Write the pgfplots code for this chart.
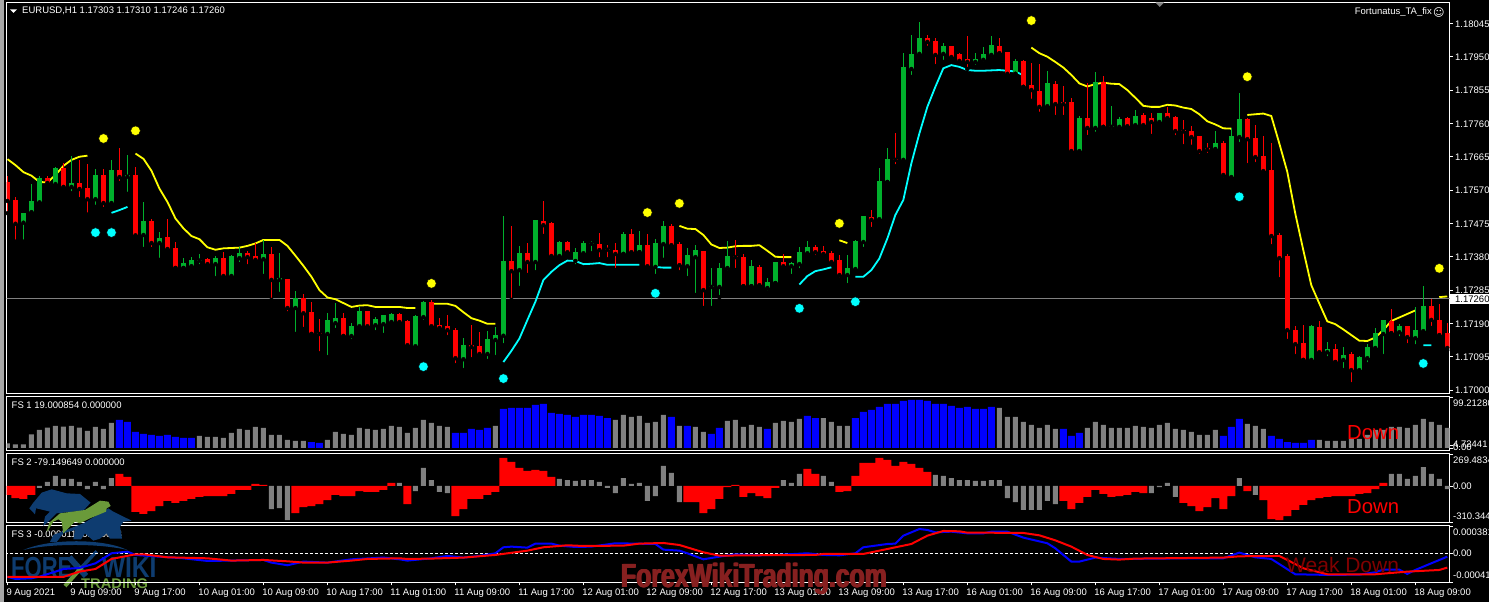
\documentclass[border=0pt]{standalone}
\usepackage{fontspec}
\setmainfont{Liberation Sans}
\newfontfamily\symfont{DejaVu Sans}
\usepackage{pgfplots}
\usepackage{pgfplotstable}
\pgfplotsset{compat=1.18}

\definecolor{cgreen}{RGB}{0,176,44}
\definecolor{cgray}{RGB}{128,128,128}
\definecolor{cred}{RGB}{255,0,0}
\definecolor{cblue}{RGB}{0,0,255}
\definecolor{ccyan}{RGB}{0,255,255}
\definecolor{cyellow}{RGB}{255,255,0}
\definecolor{weak}{RGB}{128,0,0}
\definecolor{wmark}{RGB}{135,32,32}
\definecolor{logoblue}{RGB}{14,60,112}
\definecolor{logogreen}{RGB}{106,154,58}
\newcommand\tf{\fontsize{9.5}{11}\selectfont}

% bars that closed up: i open high low close
\pgfplotstableread{
i o h l c
2 1.17477 1.17506 1.17423 1.17506
3 1.17507 1.17586 1.17505 1.17539
4 1.17535 1.17609 1.17531 1.17604
6 1.17587 1.17637 1.17577 1.17633
8 1.17579 1.17666 1.17561 1.17590
11 1.17544 1.17630 1.17522 1.17613
13 1.17533 1.17655 1.17524 1.17627
15 1.17608 1.17670 1.17559 1.17612
17 1.17442 1.17536 1.17402 1.17482
19 1.17419 1.17450 1.17371 1.17433
22 1.17348 1.17376 1.17348 1.17362
23 1.17353 1.17379 1.17342 1.17371
24 1.17369 1.17388 1.17353 1.17371
26 1.17359 1.17382 1.17319 1.17376
28 1.17325 1.17385 1.17316 1.17382
29 1.17376 1.17408 1.17359 1.17390
32 1.17373 1.17428 1.17325 1.17388
34 1.17314 1.17390 1.17274 1.17319
36 1.17234 1.17282 1.17160 1.17262
40 1.17160 1.17219 1.17094 1.17200
41 1.17191 1.17248 1.17171 1.17205
43 1.17154 1.17191 1.17140 1.17182
44 1.17182 1.17237 1.17171 1.17225
46 1.17185 1.17208 1.17165 1.17202
47 1.17188 1.17214 1.17157 1.17214
48 1.17194 1.17219 1.17185 1.17217
51 1.17125 1.17214 1.17114 1.17211
52 1.17208 1.17254 1.17194 1.17251
57 1.17088 1.17148 1.17057 1.17128
60 1.17103 1.17168 1.17083 1.17145
61 1.17143 1.17180 1.17094 1.17157
62 1.17155 1.17496 1.17128 1.17368
64 1.17342 1.17410 1.17291 1.17390
66 1.17365 1.17485 1.17336 1.17485
69 1.17382 1.17425 1.17376 1.17422
71 1.17368 1.17405 1.17353 1.17393
72 1.17390 1.17425 1.17385 1.17419
73 1.17417 1.17425 1.17390 1.17419
77 1.17388 1.17450 1.17388 1.17445
79 1.17393 1.17453 1.17393 1.17413
81 1.17351 1.17430 1.17325 1.17419
82 1.17416 1.17482 1.17371 1.17467
85 1.17353 1.17405 1.17319 1.17385
86 1.17379 1.17413 1.17271 1.17399
88 1.17294 1.17348 1.17234 1.17296
89 1.17294 1.17362 1.17265 1.17348
90 1.17348 1.17425 1.17336 1.17382
93 1.17296 1.17371 1.17296 1.17353
95 1.17291 1.17319 1.17279 1.17308
96 1.17305 1.17365 1.17305 1.17365
98 1.17353 1.17365 1.17325 1.17362
99 1.17359 1.17408 1.17342 1.17393
100 1.17390 1.17425 1.17382 1.17408
105 1.17328 1.17385 1.17299 1.17348
106 1.17345 1.17428 1.17336 1.17425
107 1.17422 1.17496 1.17402 1.17496
109 1.17487 1.17633 1.17479 1.17596
110 1.17593 1.17690 1.17593 1.17658
112 1.17656 1.17960 1.17647 1.17921
113 1.17915 1.18012 1.17892 1.17958
114 1.17958 1.18049 1.17952 1.18003
117 1.17958 1.17989 1.17935 1.17980
121 1.17935 1.17960 1.17921 1.17943
122 1.17941 1.17978 1.17929 1.17958
123 1.17955 1.18009 1.17943 1.17982
126 1.17901 1.17943 1.17901 1.17938
130 1.17809 1.17909 1.17798 1.17875
134 1.17681 1.17781 1.17678 1.17775
136 1.17747 1.17906 1.17730 1.17878
138 1.17750 1.17809 1.17738 1.17752
139 1.17750 1.17778 1.17744 1.17772
141 1.17755 1.17798 1.17752 1.17781
144 1.17764 1.17789 1.17758 1.17789
151 1.17687 1.17738 1.17684 1.17704
153 1.17607 1.17747 1.17601 1.17724
154 1.17721 1.17846 1.17701 1.17772
163 1.17086 1.17185 1.17083 1.17182
165 1.17108 1.17137 1.17091 1.17117
167 1.17086 1.17123 1.17057 1.17100
169 1.17057 1.17097 1.17051 1.17094
170 1.17091 1.17131 1.17074 1.17123
171 1.17120 1.17177 1.17117 1.17162
172 1.17160 1.17200 1.17097 1.17200
174 1.17165 1.17188 1.17148 1.17182
176 1.17148 1.17237 1.17125 1.17171
177 1.17168 1.17296 1.17162 1.17239
}\upbars

% bars that closed down
\pgfplotstableread{
i o h l c
0 1.17593 1.17610 1.17504 1.17539
1 1.17542 1.17549 1.17423 1.17474
5 1.17604 1.17609 1.17580 1.17590
7 1.17634 1.17646 1.17577 1.17579
9 1.17590 1.17655 1.17544 1.17573
10 1.17576 1.17644 1.17500 1.17544
12 1.17613 1.17629 1.17516 1.17533
14 1.17627 1.17689 1.17590 1.17607
16 1.17613 1.17636 1.17436 1.17441
18 1.17482 1.17487 1.17402 1.17419
20 1.17436 1.17487 1.17399 1.17402
21 1.17405 1.17422 1.17348 1.17348
25 1.17373 1.17377 1.17348 1.17359
27 1.17376 1.17393 1.17322 1.17325
30 1.17390 1.17396 1.17353 1.17379
31 1.17382 1.17419 1.17368 1.17371
33 1.17388 1.17408 1.17257 1.17314
35 1.17316 1.17316 1.17219 1.17234
37 1.17262 1.17274 1.17174 1.17219
38 1.17222 1.17251 1.17160 1.17160
39 1.17162 1.17202 1.17105 1.17160
42 1.17205 1.17219 1.17154 1.17154
45 1.17225 1.17225 1.17174 1.17182
49 1.17217 1.17219 1.17191 1.17194
50 1.17197 1.17200 1.17125 1.17128
53 1.17251 1.17257 1.17177 1.17182
54 1.17185 1.17205 1.17168 1.17177
55 1.17182 1.17214 1.17151 1.17171
56 1.17171 1.17177 1.17071 1.17091
58 1.17128 1.17185 1.17088 1.17123
59 1.17125 1.17165 1.17094 1.17103
63 1.17368 1.17467 1.17257 1.17339
65 1.17390 1.17419 1.17328 1.17365
67 1.17482 1.17539 1.17439 1.17470
68 1.17476 1.17479 1.17379 1.17382
70 1.17422 1.17425 1.17388 1.17393
74 1.17416 1.17447 1.17373 1.17399
75 1.17402 1.17413 1.17373 1.17400
76 1.17399 1.17419 1.17342 1.17388
78 1.17445 1.17459 1.17390 1.17393
80 1.17413 1.17445 1.17351 1.17353
83 1.17467 1.17473 1.17408 1.17413
84 1.17416 1.17422 1.17336 1.17356
87 1.17396 1.17396 1.17234 1.17285
91 1.17382 1.17428 1.17342 1.17379
92 1.17379 1.17388 1.17296 1.17296
94 1.17351 1.17356 1.17294 1.17299
97 1.17365 1.17388 1.17348 1.17353
101 1.17408 1.17413 1.17379 1.17393
102 1.17396 1.17410 1.17382 1.17388
103 1.17390 1.17396 1.17359 1.17365
104 1.17371 1.17385 1.17316 1.17328
108 1.17493 1.17513 1.17459 1.17485
111 1.17658 1.17732 1.17638 1.17656
115 1.18003 1.18012 1.17975 1.17992
116 1.17995 1.18003 1.17923 1.17955
118 1.17980 1.17980 1.17943 1.17949
119 1.17958 1.17960 1.17932 1.17938
120 1.17943 1.18009 1.17915 1.17935
124 1.17980 1.18003 1.17958 1.17960
125 1.17963 1.17963 1.17898 1.17901
127 1.17938 1.17941 1.17864 1.17864
128 1.17869 1.17932 1.17824 1.17855
129 1.17852 1.17929 1.17787 1.17807
131 1.17872 1.17881 1.17778 1.17815
132 1.17821 1.17866 1.17778 1.17815
133 1.17821 1.17832 1.17673 1.17681
135 1.17775 1.17875 1.17721 1.17747
137 1.17878 1.17895 1.17750 1.17750
140 1.17775 1.17778 1.17747 1.17752
142 1.17784 1.17789 1.17752 1.17755
143 1.17775 1.17789 1.17724 1.17764
145 1.17789 1.17807 1.17772 1.17775
146 1.17778 1.17781 1.17721 1.17738
147 1.17741 1.17770 1.17695 1.17737
148 1.17738 1.17752 1.17693 1.17721
149 1.17724 1.17724 1.17667 1.17681
150 1.17689 1.17704 1.17670 1.17685
152 1.17704 1.17710 1.17601 1.17613
155 1.17772 1.17775 1.17641 1.17715
156 1.17718 1.17755 1.17644 1.17664
157 1.17667 1.17724 1.17613 1.17624
158 1.17627 1.17704 1.17410 1.17439
159 1.17442 1.17447 1.17316 1.17376
160 1.17382 1.17388 1.17140 1.17171
161 1.17171 1.17182 1.17097 1.17131
162 1.17134 1.17185 1.17086 1.17086
164 1.17180 1.17197 1.17103 1.17108
166 1.17117 1.17131 1.17080 1.17080
168 1.17103 1.17108 1.17017 1.17057
173 1.17197 1.17231 1.17162 1.17162
175 1.17182 1.17182 1.17128 1.17151
178 1.17239 1.17259 1.17177 1.17200
179 1.17200 1.17245 1.17154 1.17157
180 1.17162 1.17191 1.17114 1.17120
}\downbars

% trend line, down stretches
\pgfplotstableread{
i v
0 1.17658
1 1.17641
2 1.17621
3 1.17611
4 1.17593
5 1.17592
6 1.17613
7 1.17639
8 1.17656
9 1.17665
10 1.17668
nan nan
16 1.17674
17 1.17659
18 1.17625
19 1.17574
20 1.17536
21 1.17489
22 1.17461
23 1.17439
24 1.17430
25 1.17407
26 1.17400
27 1.17404
28 1.17405
29 1.17406
30 1.17411
31 1.17418
32 1.17428
33 1.17428
34 1.17428
35 1.17411
36 1.17383
37 1.17354
38 1.17323
39 1.17285
40 1.17264
41 1.17259
42 1.17248
43 1.17237
44 1.17241
45 1.17242
46 1.17237
47 1.17237
48 1.17237
49 1.17237
50 1.17234
51 1.17234
nan nan
53 1.17246
54 1.17246
55 1.17246
56 1.17240
57 1.17222
58 1.17205
59 1.17198
60 1.17189
61 1.17189
nan nan
84 1.17468
85 1.17460
86 1.17459
87 1.17442
88 1.17415
89 1.17405
90 1.17406
91 1.17410
92 1.17411
93 1.17411
94 1.17413
95 1.17397
96 1.17380
97 1.17379
98 1.17379
nan nan
104 1.17427
105 1.17419
nan nan
128 1.17976
129 1.17960
130 1.17950
131 1.17935
132 1.17919
133 1.17898
134 1.17874
135 1.17865
136 1.17872
137 1.17876
138 1.17873
139 1.17872
140 1.17855
141 1.17833
142 1.17810
143 1.17807
144 1.17807
145 1.17813
146 1.17811
147 1.17805
148 1.17801
149 1.17786
150 1.17766
151 1.17757
152 1.17746
153 1.17745
nan nan
155 1.17784
156 1.17786
157 1.17788
158 1.17781
159 1.17703
160 1.17622
161 1.17503
162 1.17399
163 1.17299
164 1.17247
165 1.17196
166 1.17188
167 1.17173
168 1.17157
169 1.17141
170 1.17140
171 1.17150
172 1.17171
173 1.17197
174 1.17207
175 1.17217
176 1.17227
nan nan
179 1.17265
180 1.17267
}\trenddown

% trend line, up stretches
\pgfplotstableread{
i v
13 1.17505
14 1.17513
15 1.17522
nan nan
62 1.17080
63 1.17112
64 1.17147
65 1.17200
66 1.17252
67 1.17314
68 1.17337
69 1.17356
70 1.17369
71 1.17368
72 1.17359
73 1.17360
74 1.17362
75 1.17357
76 1.17357
77 1.17357
78 1.17357
79 1.17357
nan nan
81 1.17351
82 1.17349
83 1.17349
nan nan
99 1.17301
100 1.17325
101 1.17339
102 1.17344
103 1.17350
nan nan
106 1.17323
107 1.17323
108 1.17342
109 1.17375
110 1.17432
111 1.17499
112 1.17542
113 1.17646
114 1.17731
115 1.17807
116 1.17864
117 1.17917
118 1.17926
119 1.17921
120 1.17912
121 1.17910
122 1.17910
123 1.17911
124 1.17912
125 1.17910
126 1.17908
127 1.17897
nan nan
177 1.17128
178 1.17128
}\trendup

% FS 1 histogram
\pgfplotstableread{
i v
0 9.1
1 7.2
2 7.2
3 26.8
4 35.3
5 39.8
6 43.1
7 41.8
8 43.1
9 39.8
10 33.3
11 41.2
12 37.2
13 49.0
24 23.6
25 21.6
26 21.6
27 19.6
28 29.4
29 37.2
30 35.3
31 41.2
32 39.2
33 25.5
34 25.5
35 15.7
36 13.7
37 13.7
40 15.7
41 31.4
42 27.5
43 25.5
44 39.2
45 37.2
46 35.3
47 37.2
48 43.1
49 41.2
50 29.4
51 39.2
52 54.8
53 49.0
54 43.1
55 41.2
61 43.1
76 54.8
77 64.7
78 60.7
79 62.7
80 49.0
81 50.9
82 64.7
84 43.1
86 41.2
87 31.4
90 52.9
91 54.8
92 41.2
93 45.1
94 41.2
96 49.0
97 52.9
98 50.9
99 56.8
102 58.7
103 50.9
104 43.1
105 43.1
124 78.4
125 60.7
126 60.7
127 50.9
128 45.1
129 39.2
130 45.1
131 37.2
135 39.2
136 50.9
137 45.1
138 39.2
139 39.2
140 39.2
141 43.1
142 41.2
143 39.2
144 45.1
145 49.0
146 37.2
147 35.3
148 31.4
149 25.5
150 25.5
151 35.3
155 47.0
156 43.1
157 37.2
164 15.7
165 13.7
166 13.7
167 13.7
168 17.6
169 17.6
170 25.5
171 35.3
172 35.3
173 41.2
174 41.2
175 39.2
176 45.1
177 56.8
178 50.9
179 45.1
180 39.2
}\fsonegray

\pgfplotstableread{
i v
14 54.8
15 50.9
16 31.4
17 27.5
18 25.5
19 23.6
20 25.5
21 21.6
22 19.6
23 19.6
38 11.7
39 9.8
56 29.4
57 29.4
58 37.2
59 35.3
60 39.2
62 76.4
63 78.4
64 78.4
65 78.4
66 84.3
67 86.2
68 68.6
69 66.7
70 64.7
71 60.7
72 64.7
73 64.7
74 62.7
75 58.7
83 60.7
85 43.1
88 27.5
89 39.2
95 37.2
100 62.7
101 58.7
106 58.7
107 70.6
108 74.5
109 80.3
110 86.2
111 86.2
112 92.1
113 94.0
114 94.0
115 92.1
116 86.2
117 86.2
118 82.3
119 78.4
120 80.3
121 76.4
122 76.4
123 80.3
132 37.2
133 23.6
134 29.4
152 23.6
153 41.2
154 56.8
158 23.6
159 17.6
160 11.7
161 9.8
162 9.8
163 15.7
}\fsoneblue

% FS 2 histogram
\pgfplotstableread{
i v
4 -17
5 34
6 86
7 60
8 60
9 34
10 -26
11 34
12 -26
13 68
33 -197
34 -188
35 -291
49 26
51 -43
52 154
53 51
54 -51
55 -60
69 60
70 51
71 43
72 51
73 51
74 34
75 -17
76 -60
77 68
78 17
79 26
80 -128
81 -86
82 171
83 111
84 -137
97 51
98 26
99 103
102 86
103 34
116 94
117 86
118 68
119 51
120 51
121 43
122 43
123 51
124 51
125 -103
126 -137
127 -205
128 -205
129 -205
130 -128
131 -154
143 -60
144 -9
145 26
146 -94
154 68
156 -77
173 103
174 103
175 60
176 86
177 162
178 103
179 60
180 -26
}\fstwogray

\pgfplotstableread{
i v
0 -77
1 -103
2 -111
3 -77
14 103
15 77
16 -222
17 -239
18 -214
19 -171
20 -128
21 -145
22 -128
23 -111
24 -94
25 -86
26 -86
27 -86
28 -68
29 -34
30 -34
31 17
32 9
36 -231
37 -180
38 -171
39 -154
40 -120
41 -77
42 -86
43 -86
44 -43
45 -51
46 -51
47 -34
48 26
50 -154
56 -257
57 -197
58 -111
59 -111
60 -77
61 -51
62 239
63 205
64 154
65 128
66 137
67 128
68 77
85 -137
86 -137
87 -231
88 -197
89 -111
90 -9
91 9
92 -94
93 -60
94 -86
95 -103
96 -17
100 145
101 103
104 -51
105 -43
106 86
107 197
108 197
109 239
110 222
111 171
112 205
113 188
114 154
115 120
132 -128
133 -197
134 -145
135 -94
136 -34
137 -68
138 -94
139 -86
140 -77
141 -51
142 -60
147 -145
148 -171
149 -214
150 -180
151 -103
152 -197
153 -86
155 -43
157 -120
158 -282
159 -291
160 -257
161 -205
162 -162
163 -120
164 -103
165 -94
166 -86
167 -86
168 -86
169 -68
170 -60
171 -26
172 26
}\fstwored

\pgfplotsset{
  panel/.style={
    scale only axis, width=1442.8pt,
    xmin=-0.1, xmax=180.28,
    axis line style={white, line width=1pt},
    tick style={white, line width=0.8pt},
    tick align=outside, major tick length=3pt,
    ytick pos=right, xtick=\empty,
    tick label style={white, font=\tf},
    scaled y ticks=false,
    unbounded coords=jump,
  },
  wick/.style={only marks, mark=none, forget plot,
    error bars/.cd, y dir=plus, y explicit, error mark=none,
    error bar style={#1, line width=1pt}},
  body/.style={only marks, mark=none, forget plot,
    error bars/.cd, y dir=plus, y explicit, error mark=none,
    error bar style={#1, line width=5pt}},
  hist/.style 2 args={ybar, bar width=#2, fill=#1, draw=none},
}

\newcommand\rlabel[2]{\node[anchor=west, inner sep=0pt, white, font=\tf] at (1453pt,602pt-#1pt) {#2};}
\newcommand\fslabel[2]{\node[anchor=west, inner sep=0pt, white, font=\tf] at (11.5pt,602pt-#1pt) {#2};}
% watermark, set a few times side by side to get its heavy weight
\newcommand\wm[2]{\node[anchor=center, inner sep=0pt, text=wmark,
      font=\fontsize{33.5}{34}\selectfont\bfseries, xscale=0.74] at (754pt+#1pt,23pt+#2pt) {ForexWikiTrading.com};}

\begin{document}
\begin{tikzpicture}
\path[use as bounding box, clip] (0,0) rectangle (1489pt,602pt);
\fill[black] (0,0) rectangle (1489pt,602pt);
\fill[black!35] (0,0) rectangle (4.3pt,602pt);

% price panel
\begin{axis}[panel, at={(6.7pt,208pt)}, anchor=south west, height=391.7pt,
    ymin=1.16989, ymax=1.18105,
    ytick={1.17,1.17095,1.1719,1.17285,1.1738,1.17475,1.1757,1.17665,1.1776,1.17855,1.1795,1.18045},
    yticklabels={1.17000,1.17095,1.17190,1.17285,1.17380,1.17475,1.17570,1.17665,1.17760,1.17855,1.17950,1.18045},
    yticklabel style={inner sep=0pt, xshift=2.5pt, yshift=-0.5pt},
  ]
  \addplot[cgray, line width=0.9pt] coordinates {(-1,1.1726) (181,1.1726)};
  \addplot[cyellow, line width=1.8pt] table[x=i,y=v] {\trenddown};
  \addplot[ccyan, line width=1.8pt] table[x=i,y=v] {\trendup};
  \addplot[wick=cgreen] table[x=i, y=l, y error expr=\thisrow{h}-\thisrow{l}] {\upbars};
  \addplot[body=cgreen] table[x=i, y=o, y error expr=\thisrow{c}-\thisrow{o}] {\upbars};
  \addplot[wick=cred] table[x=i, y=l, y error expr=\thisrow{h}-\thisrow{l}] {\downbars};
  \addplot[body=cred] table[x=i, y=c, y error expr=\thisrow{o}-\thisrow{c}] {\downbars};
  \addplot[only marks, mark=*, mark size=4.8pt, mark options={draw=none, fill=cyellow}] coordinates {
    (12,1.17717) (16,1.17739) (53,1.17304) (80,1.17506) (84,1.17532) (104,1.17475)
    (128,1.18053) (155,1.17893) (179,1.17347)};
  \addplot[only marks, mark=*, mark size=4.8pt, mark options={draw=none, fill=ccyan}] coordinates {
    (11,1.17449) (13,1.17449) (52,1.17067) (62,1.17033) (81,1.17276) (99,1.17233)
    (106,1.17252) (154,1.17551) (177,1.17076)};
\end{axis}

% FS 1
\begin{axis}[panel, at={(6.7pt,151pt)}, anchor=south west, height=54.7pt,
    ymin=-5.9, ymax=101.2, ytick={0,4.72441,99.2128}, yticklabels={}]
  \addplot[hist={cgray}{5pt}] table[x=i,y=v] {\fsonegray};
  \addplot[hist={cblue}{7pt}] table[x=i,y=v] {\fsoneblue};
\end{axis}

% FS 2
\begin{axis}[panel, at={(6.7pt,79pt)}, anchor=south west, height=69.7pt,
    ymin=-316, ymax=279, ytick={-310.344,0,269.483}, yticklabels={}]
  \addplot[hist={cgray}{5pt}] table[x=i,y=v] {\fstwogray};
  \addplot[hist={cred}{8pt}] table[x=i,y=v] {\fstwored};
\end{axis}

\fslabel{405}{FS 1 19.000854 0.000000}
\fslabel{462.3}{FS 2 -79.149649 0.000000}
\fslabel{534.3}{FS 3 -0.000011 -0.000018}

% logo, the part that sits under the FS 3 lines
\begin{scope}[shift={(0pt,122pt)}, x=0.3333pt, y=-0.3333pt]
  \fill[logoblue] (70,210) .. controls (150,175) and (310,175) .. (382,210)
     .. controls (300,190) and (150,190) .. (70,210) -- cycle;
  \node[anchor=west, inner sep=0pt, logoblue, font=\fontsize{29}{30}\selectfont\bfseries, xscale=0.76] at (33,262) {FORE};
  \node[anchor=west, inner sep=0pt, logoblue, font=\fontsize{29}{30}\selectfont\bfseries, xscale=0.85] at (305,262) {WIKI};
  \node[anchor=west, inner sep=0pt, logogreen, font=\fontsize{14}{15}\selectfont\bfseries, xscale=1.05] at (243,312) {TRADING};
  \draw[logoblue, line width=6pt] (208,232) -- (258,288);
  \draw[logoblue, line width=3.5pt] (290,214) -- (245,262);
  \draw[logogreen, line width=4pt] (245,262) -- (195,318);
\end{scope}

% FS 3, values in units of 1e-6
\begin{axis}[panel, at={(6.7pt,19.7pt)}, anchor=south west, height=57pt,
    ymin=-405, ymax=391, ytick={-400,0,381}, yticklabels={},
    xtick={0,8,...,176}, xtick pos=bottom,
    xticklabels={9 Aug 2021,9 Aug 09:00,9 Aug 17:00,10 Aug 01:00,10 Aug 09:00,10 Aug 17:00,
      11 Aug 01:00,11 Aug 09:00,11 Aug 17:00,12 Aug 01:00,12 Aug 09:00,12 Aug 17:00,
      13 Aug 01:00,13 Aug 09:00,13 Aug 17:00,16 Aug 01:00,16 Aug 09:00,16 Aug 17:00,
      17 Aug 01:00,17 Aug 09:00,17 Aug 17:00,18 Aug 01:00,18 Aug 09:00},
    xticklabel style={anchor=north west, inner sep=0pt, xshift=-1.2pt, yshift=-3.7pt},
  ]
  \addplot[white, dashed, dash pattern=on 3pt off 2pt, line width=0.7pt] coordinates {(-1,0) (181,0)};
  \addplot[cblue, line width=2pt] coordinates {
    (0,-330) (1,-358) (3,-349) (4,-326) (6,-256) (7,-219) (9,-205) (11,-140) (13,0) (15,23)
    (16,-23) (19,-47) (22,-70) (25,-107) (28,-102) (32,-93) (33,-130) (35,-167) (37,-116)
    (40,-130) (43,-84) (47,-60) (49,-84) (50,-102) (53,-70) (55,-37) (57,-60) (59,-37) (61,0)
    (62,84) (63,93) (65,79) (66,135) (68,135) (69,107) (71,88) (73,93) (76,140) (81,130)
    (82,51) (84,37) (85,0) (87,-84) (89,-47) (91,-14) (94,-28) (96,-23) (100,0) (102,-23)
    (104,-28) (106,0) (107,84) (110,130) (111,135) (112,246) (114,339) (115,326) (116,293)
    (118,302) (120,279) (122,279) (123,302) (125,302) (127,219) (130,140) (131,70) (133,-116)
    (134,-116) (136,-60) (139,-79) (148,-70) (152,-70) (154,9) (156,-56) (158,-79) (161,-293)
    (165,-302) (169,-298) (171,-265) (172,-228) (174,-228) (175,-288) (176,-233) (178,-140) (180,-47)
  };
  \addplot[cred, line width=2pt] coordinates {
    (0,-330) (7,-330) (9,-256) (11,-219) (13,-79) (16,-14) (17,-14) (20,-56) (25,-70) (28,-102)
    (32,-93) (35,-112) (37,-130) (40,-130) (43,-102) (45,-79) (49,-70) (50,-79) (53,-74) (57,-60)
    (61,-23) (65,37) (67,84) (70,112) (72,102) (77,107) (79,135) (82,144) (84,116) (87,14)
    (89,-33) (93,-28) (101,-23) (102,-9) (107,-9) (110,60) (113,130) (115,246) (117,312)
    (119,307) (120,288) (122,288) (127,284) (129,251) (131,181) (133,93) (135,-23) (137,-79)
    (139,-88) (141,-74) (152,-60) (154,-42) (159,-37) (160,-93) (162,-209) (165,-293) (171,-293)
    (175,-256) (179,-233) (180,-200)
  };
\end{axis}

% logo, bear and bull
\begin{scope}[shift={(0pt,122pt)}, x=0.3333pt, y=-0.3333pt]
  \fill[logoblue] (88,85) -- (100,68) -- (125,38) -- (155,28) -- (200,40) -- (240,42) -- (272,68)
    -- (250,92) -- (170,100) -- (145,125) -- (130,138) -- (135,110) -- (150,95) -- (130,90)
    -- (108,85) -- (105,103) -- cycle;
  \fill[logoblue] (325,85) -- (340,95) -- (395,122) -- (370,125) -- (360,140) -- (366,176)
    -- (330,176) -- (320,160) -- (300,176) -- (280,182) -- (255,160) -- (243,178) -- (220,178)
    -- (225,150) -- (190,160) -- (170,186) -- (150,186) -- (160,165) -- (250,130) -- (300,100) -- cycle;
  \fill[logogreen] (140,155) -- (148,128) -- (180,100) -- (255,90) -- (300,62) -- (325,65)
    -- (332,78) -- (320,85) -- (318,95) -- (270,115) -- (240,130) -- (225,125) -- (190,160)
    -- (185,125) -- (175,118) -- (160,125) -- (145,150) -- cycle;
\end{scope}

% right hand scale labels of the sub panels
\rlabel{403.3}{99.21280}
\rlabel{444.3}{4.72441}
\rlabel{447.7}{0.00}
\rlabel{460.7}{269.48347}
\rlabel{486.7}{0.00}
\rlabel{516.7}{-310.344}
\rlabel{532.7}{0.000381}
\rlabel{553.3}{0.00}
\rlabel{575.3}{-0.00041}

% header texts
\fill[white] (10pt,592.5pt) -- (17pt,592.5pt) -- (13.5pt,589pt) -- cycle;
\node[anchor=west, inner sep=0pt, white, font=\tf] at (22pt,590.8pt) {EURUSD,H1  1.17303 1.17310 1.17246 1.17260};
\node[anchor=east, inner sep=0pt, white, font=\tf] at (1432pt,590pt) {Fortunatus\_TA\_fix};
\node[anchor=west, inner sep=0pt, white, font=\fontsize{11}{12}\selectfont\symfont] at (1433pt,590pt) {☺};
\fill[cgray] (1155.5pt,599.5pt) -- (1164pt,599.5pt) -- (1159.7pt,595pt) -- cycle;

% price tag
\fill[white] (1450pt,297.5pt) rectangle (1489pt,308pt);
\node[anchor=west, inner sep=0pt, black, font=\tf] at (1455pt,302.5pt) {1.17260};

% signal words and watermark
\node[anchor=west, inner sep=0pt, cred, font=\fontsize{20.3}{22}\selectfont] at (1347pt,169pt) {Down};
\node[anchor=west, inner sep=0pt, cred, font=\fontsize{20.3}{22}\selectfont] at (1347pt,95pt) {Down};
\node[anchor=west, inner sep=0pt, weak, font=\fontsize{21}{22}\selectfont] at (1286pt,37pt) {Weak Down};
\wm{-0.7}{0}
\wm{0.7}{0}
\wm{0}{0.4}
\wm{0}{-0.4}
\end{tikzpicture}
\end{document}
